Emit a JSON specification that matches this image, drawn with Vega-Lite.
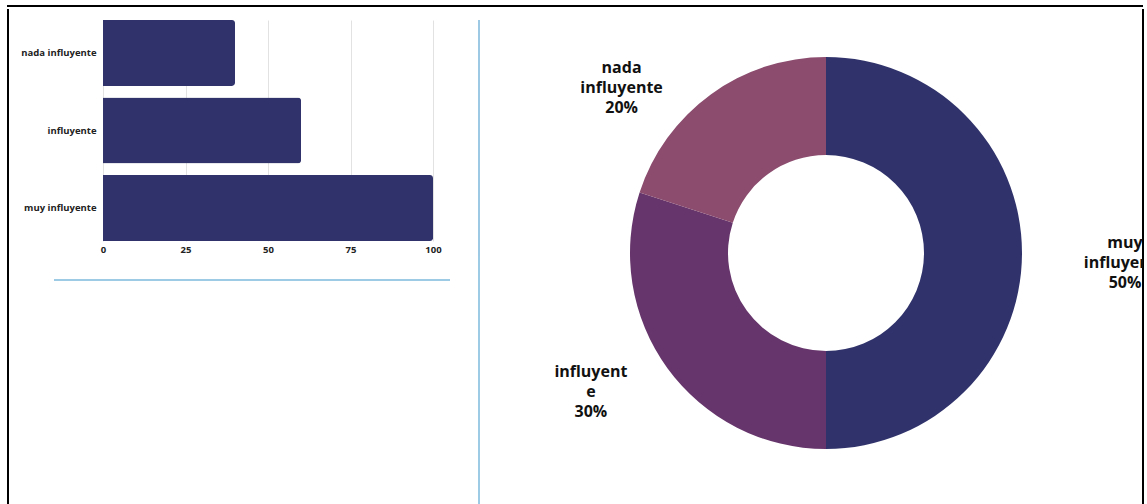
{
 "$schema": "https://vega.github.io/schema/vega-lite/v6.json",
 "padding": {"left": 6, "top": 5, "right": 0, "bottom": 0},
 "background": "white",
 "config": {"view": {"stroke": null}, "font": "Open Sans"},
 "datasets": {"d": [
   {"cat": "muy influyente", "value": 100, "lines": ["muy", "influyente", "50%"]},
   {"cat": "influyente", "value": 60, "lines": ["influyent", "e", "30%"]},
   {"cat": "nada influyente", "value": 40, "lines": ["nada", "influyente", "20%"]}
 ]},
 "spacing": 0,
 "vconcat": [
  {"width": 1136, "height": 1, "data": {"values": []}, "mark": "point", "encoding": {},
   "view": {"stroke": "#000", "strokeWidth": 2, "strokeDash": [1136, 5000]}},
  {"spacing": 11, "hconcat": [
    {"width": 1, "height": 498, "data": {"values": []}, "mark": "point", "encoding": {},
     "view": {"stroke": "#000", "strokeWidth": 2, "strokeDash": [0, 1, 498, 5000]}},
    {"spacing": 10, "vconcat": [
       {"width": 1, "height": 1, "data": {"values": []}, "mark": "point", "encoding": {}},
       {"width": 396, "height": 221, "data": {"name": "d"},
        "mark": {"type": "bar", "color": "#30336b", "cornerRadiusEnd": 3},
        "encoding": {
          "y": {"field": "cat", "type": "nominal", "sort": ["nada influyente", "influyente", "muy influyente"],
                "scale": {"paddingInner": 0.15, "paddingOuter": 0},
                "axis": {"title": null, "ticks": false, "tickSize": 0, "domain": false, "labelPadding": -42,
                         "labelFont": "Open Sans", "labelFontWeight": "bold", "labelFontSize": 9.5, "labelColor": "#222"}},
          "x": {"field": "value", "type": "quantitative", "scale": {"domain": [-14.85, 105.15], "nice": false, "zero": false},
                "axis": {"title": null, "values": [0, 25, 50, 75, 100], "ticks": false, "tickSize": 0, "domain": false,
                         "labelPadding": 3, "labelFlush": false, "grid": true, "gridColor": "#e2e2e2",
                         "labelFont": "Open Sans", "labelFontWeight": "bold", "labelFontSize": 9.5, "labelColor": "#222"}}
        }},
       {"width": 411, "height": 15, "data": {"values": []}, "mark": "point", "encoding": {},
        "view": {"stroke": "#7db8db", "strokeWidth": 1.5, "strokeDash": [0, 441, 396, 5000]}}
    ]},
    {"width": 1, "height": 498, "data": {"values": []}, "mark": "point", "encoding": {},
     "view": {"stroke": "#7db8db", "strokeWidth": 1.5, "strokeDash": [0, 12, 486, 5000]}},
    {"width": 651, "height": 496,
     "view": {"stroke": "#000", "strokeWidth": 2, "strokeDash": [0, 651, 496, 5000]},
     "data": {"name": "d"},
     "encoding": {
       "theta": {"field": "value", "type": "quantitative", "stack": true},
       "order": {"field": "value", "type": "quantitative", "sort": "descending"}
     },
     "layer": [
       {"mark": {"type": "arc", "innerRadius": 98, "outerRadius": 196, "xOffset": 8.5, "yOffset": -4},
        "encoding": {"color": {"field": "cat", "type": "nominal",
          "scale": {"domain": ["muy influyente", "influyente", "nada influyente"], "range": ["#30336b", "#66356b", "#8b4c6e"]},
          "legend": null}}},
       {"mark": {"type": "text", "radius": 299, "dx": 8.5, "dy": -14, "font": "Open Sans", "fontSize": 16, "fontWeight": "bold", "lineHeight": 20, "color": "#111", "clip": true},
        "encoding": {"detail": {"field": "cat"},
          "text": {"condition": {"test": "datum.cat === 'muy influyente'", "field": "lines", "type": "nominal"}, "value": ""}}},
       {"mark": {"type": "text", "radius": 235, "dx": -36.5, "dy": -23, "font": "Open Sans", "fontSize": 16, "fontWeight": "bold", "lineHeight": 20, "color": "#111"},
        "encoding": {"detail": {"field": "cat"},
          "text": {"condition": {"test": "datum.cat === 'influyente'", "field": "lines", "type": "nominal"}, "value": ""}}},
       {"mark": {"type": "text", "radius": 204, "dx": -76, "dy": -24, "font": "Open Sans", "fontSize": 16, "fontWeight": "bold", "lineHeight": 20, "color": "#111"},
        "encoding": {"detail": {"field": "cat"},
          "text": {"condition": {"test": "datum.cat === 'nada influyente'", "field": "lines", "type": "nominal"}, "value": ""}}}
     ]}
  ]}
 ]
}
